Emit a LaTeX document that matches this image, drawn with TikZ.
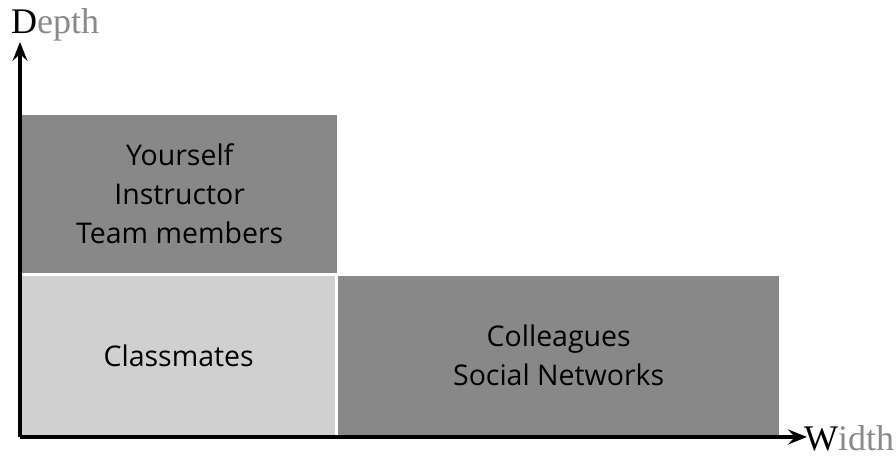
\documentclass[tikz,border=0pt]{standalone}
\usepackage{fontspec}
\setmainfont{Open Sans}
\newfontfamily\axisfont{Liberation Serif}
\usetikzlibrary{arrows.meta}

\definecolor{boxdark}{HTML}{888888}
\definecolor{boxlight}{HTML}{D0D0D0}
\definecolor{labelgray}{HTML}{8A8A8A}

\tikzset{
  cell/.style={draw=none, inner sep=0pt, anchor=north west, align=center,
    font=\fontsize{28.5}{39}\selectfont},
  darkcell/.style={cell, fill=boxdark},
  lightcell/.style={cell, fill=boxlight},
  axis/.style={line width=3.2pt, -{Stealth[length=19pt, width=15pt, inset=7pt]}},
  axislabel/.style={inner sep=0pt, font=\axisfont\fontsize{36}{36}\selectfont}
}

\begin{document}
\begin{tikzpicture}[x=1pt, y=-1pt]
  \useasboundingbox (0,0) rectangle (896,457);

  % Cells
  \node[darkcell, minimum width=315pt, minimum height=158pt] (inner) at (22,115)
    {Yourself\\Instructor\\Team members};
  \node[lightcell, minimum width=313pt, minimum height=159pt] (class) at (22,276)
    {Classmates};
  \node[darkcell, minimum width=441pt, minimum height=159pt] (outer) at (338,276)
    {Colleagues\\Social Networks};

  % Axes
  \coordinate (origin) at (20,437);
  \coordinate (ytip) at (20,42);
  \coordinate (xtip) at (807,437);
  \draw[axis] (origin) -- (ytip);
  \draw[axis] (origin) -- (xtip);

  % Axis labels
  \node[axislabel, anchor=base west] (depth) at (11,34)
    {D\textcolor{labelgray}{epth}};
  \node[axislabel, anchor=base west] (width) at (804,450)
    {W\textcolor{labelgray}{idth}};
\end{tikzpicture}
\end{document}
